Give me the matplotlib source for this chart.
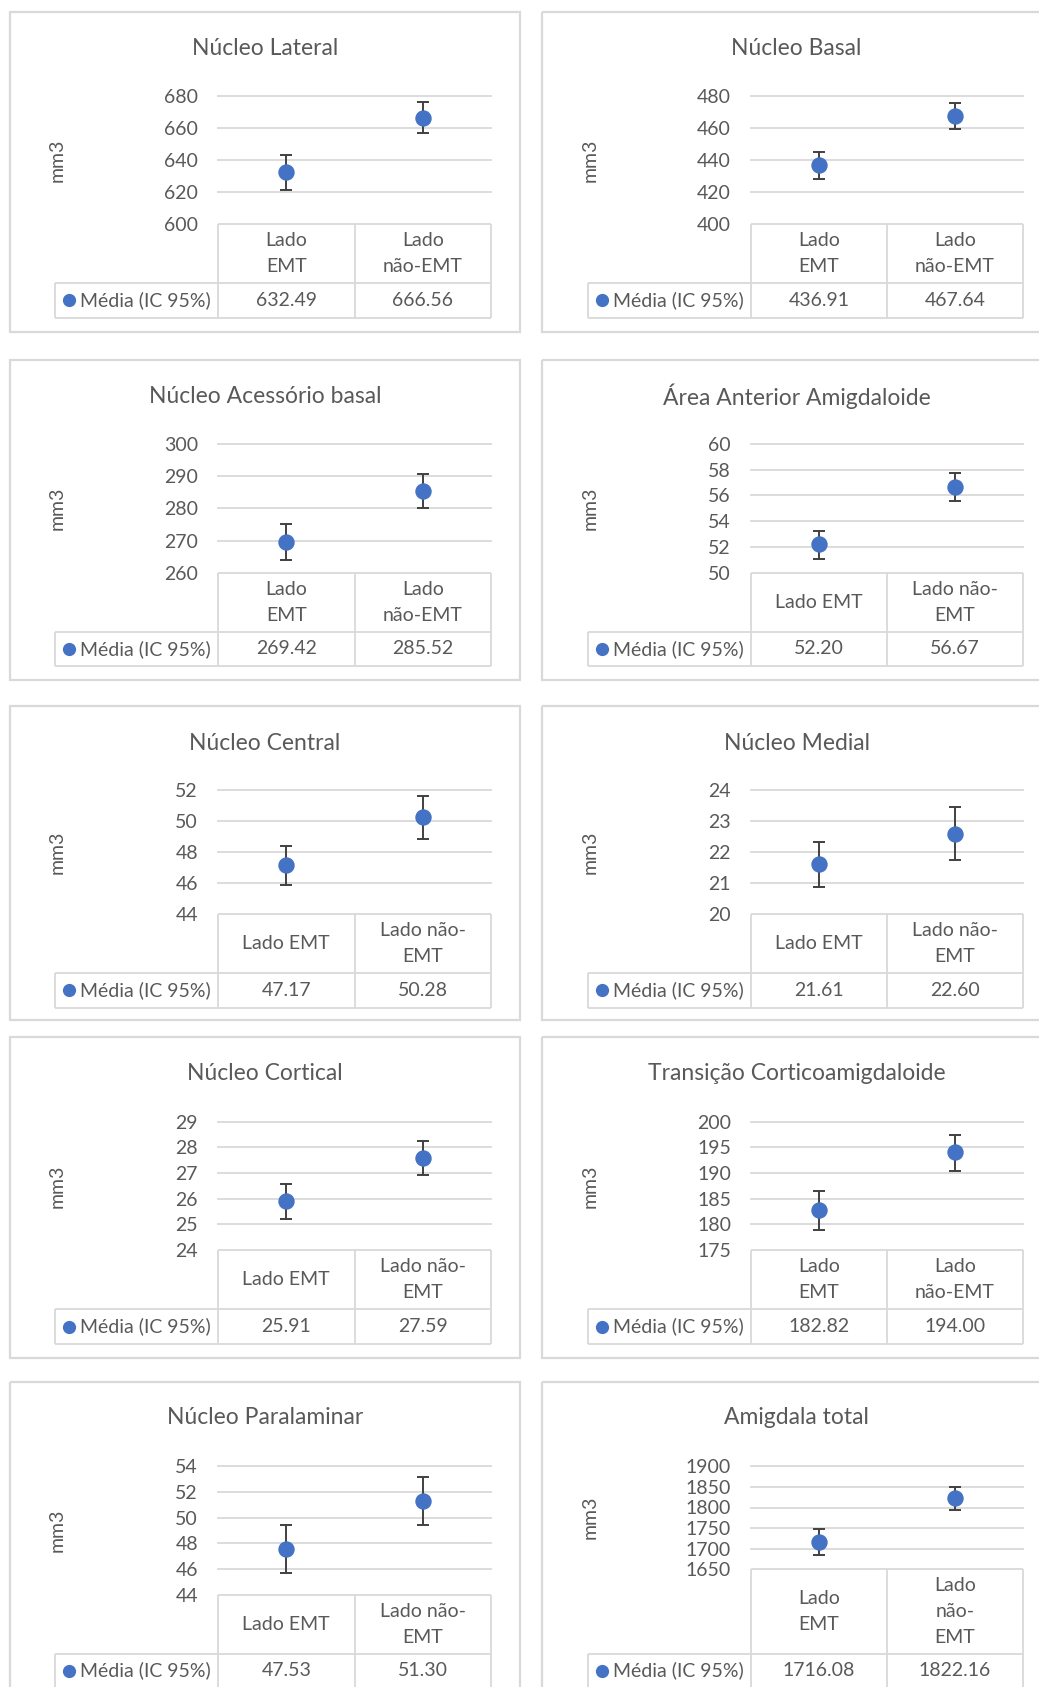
import numpy as np
import matplotlib
matplotlib.use('Agg')
import matplotlib.pyplot as plt
from matplotlib.patches import Rectangle

plt.rcParams['font.family'] = ['Lato', 'DejaVu Sans']

# --- data -------------------------------------------------------------
titles = ['Núcleo Lateral', 'Núcleo Basal',
          'Núcleo Acessório basal', 'Área Anterior Amigdaloide',
          'Núcleo Central', 'Núcleo Medial',
          'Núcleo Cortical', 'Transição Corticoamigdaloide',
          'Núcleo Paralaminar', 'Amigdala total']
mean_emt = [632.49, 436.91, 269.42, 52.20, 47.17, 21.61, 25.91, 182.82, 47.53, 1716.08]
mean_nao = [666.56, 467.64, 285.52, 56.67, 50.28, 22.60, 27.59, 194.00, 51.30, 1822.16]
# IC 95% limits
low_emt = [621.4, 428.1, 263.8, 51.1, 45.9, 20.87, 25.22, 178.9, 45.66, 1684.0]
high_emt = [643.4, 445.2, 275.0, 53.26, 48.42, 22.33, 26.56, 186.5, 49.43, 1747.0]
low_nao = [656.9, 459.5, 280.1, 55.54, 48.88, 21.73, 26.91, 190.3, 49.43, 1793.0]
high_nao = [676.1, 475.4, 290.8, 57.75, 51.63, 23.47, 28.25, 197.4, 53.17, 1850.0]
y_min = [600, 400, 260, 50, 44, 20, 24, 175, 44, 1650]
y_max = [680, 480, 300, 60, 52, 24, 29, 200, 54, 1900]
y_step = [20, 20, 10, 2, 2, 1, 1, 5, 2, 50]
cat_labels = [
    ('Lado\nEMT', 'Lado\nnão-EMT'),
    ('Lado\nEMT', 'Lado\nnão-EMT'),
    ('Lado\nEMT', 'Lado\nnão-EMT'),
    ('Lado EMT', 'Lado não-\nEMT'),
    ('Lado EMT', 'Lado não-\nEMT'),
    ('Lado EMT', 'Lado não-\nEMT'),
    ('Lado EMT', 'Lado não-\nEMT'),
    ('Lado\nEMT', 'Lado\nnão-EMT'),
    ('Lado EMT', 'Lado não-\nEMT'),
    ('Lado\nEMT', 'Lado\nnão-\nEMT'),
]
series_name = 'Média (IC 95%)'
y_label = 'mm3'

# --- layout (pixels) --------------------------------------------------
W, H = 1039, 1687
TXT = '#595959'
LINE = '#d9d9d9'
BLUE = '#4472C4'

cols = [
    dict(x0=10, x1=520, leg=55, p0=218, p1=491, ylab=57),
    dict(x0=542, x1=1051, leg=588, p0=751, p1=1023, ylab=590),
]
rows = [
    dict(top=12, bot=332, title=48, gtop=96, abot=(224, 224), hbot=283, vbot=317.5),
    dict(top=360, bot=680, title=396.5, gtop=444, abot=(572.7, 572.7), hbot=631.7, vbot=666),
    dict(top=706, bot=1020, title=743.3, gtop=790.3, abot=(914, 914), hbot=973.3, vbot=1007.5),
    dict(top=1037.3, bot=1358.3, title=1074, gtop=1121.7, abot=(1250, 1250), hbot=1309.3, vbot=1344),
    dict(top=1381.7, bot=1720, title=1418, gtop=1466.3, abot=(1594.7, 1569.3), hbot=1653.7, vbot=1700),
]

fig = plt.figure(figsize=(W / 100, H / 100), dpi=100)
canvas = fig.add_axes([0, 0, 1, 1])
canvas.set_xlim(0, W)
canvas.set_ylim(H, 0)
canvas.axis('off')


def hline(y, x0, x1):
    canvas.plot([x0, x1], [y, y], color=LINE, lw=1.3, solid_capstyle='butt')


def vline(x, y0, y1):
    canvas.plot([x, x], [y0, y1], color=LINE, lw=1.3, solid_capstyle='butt')


for i in range(len(titles)):
    c = cols[i % 2]
    r = rows[i // 2]
    abot = r['abot'][i % 2]

    # chart frame
    canvas.add_patch(Rectangle((c['x0'], r['top']), c['x1'] - c['x0'], r['bot'] - r['top'],
                               fill=False, edgecolor=LINE, lw=1.6))
    canvas.text((c['x0'] + c['x1']) / 2, r['title'], titles[i], ha='center', va='center',
                fontsize=16.5, color=TXT)
    canvas.text(c['ylab'], (r['gtop'] + abot) / 2, y_label, rotation=90, ha='center',
                va='center', fontsize=14, color=TXT)

    # plot area
    ax = fig.add_axes([c['p0'] / W, 1 - abot / H, (c['p1'] - c['p0']) / W, (abot - r['gtop']) / H])
    ax.patch.set_alpha(0)
    ax.set_xlim(0, 2)
    ax.set_ylim(y_min[i], y_max[i])
    ticks = np.arange(y_min[i], y_max[i] + y_step[i] / 2, y_step[i])
    ax.set_yticks(ticks)
    ax.set_xticks([])
    for t in ticks[1:]:
        ax.axhline(t, color=LINE, lw=1.3, clip_on=False, zorder=0)
    for s in ax.spines.values():
        s.set_visible(False)
    ax.tick_params(axis='y', length=0, pad=14.4, labelsize=14, labelcolor=TXT)

    xs = [0.5, 1.5]
    means = [mean_emt[i], mean_nao[i]]
    err = [[mean_emt[i] - low_emt[i], mean_nao[i] - low_nao[i]],
           [high_emt[i] - mean_emt[i], high_nao[i] - mean_nao[i]]]
    ax.errorbar(xs, means, yerr=err, fmt='none', ecolor='#404040', elinewidth=1.4,
                capsize=4.5, capthick=1.4, clip_on=False, zorder=2)
    ax.plot(xs, means, 'o', ms=10.8, color=BLUE, clip_on=False, zorder=3)

    # data table
    mid = (c['p0'] + c['p1']) / 2
    hline(abot, c['p0'], c['p1'])
    hline(r['hbot'], c['leg'], c['p1'])
    hline(r['vbot'], c['leg'], c['p1'])
    for x in (c['p0'], mid, c['p1']):
        vline(x, abot, r['vbot'])
    vline(c['leg'], r['hbot'], r['vbot'])

    hy = (abot + r['hbot']) / 2
    vy = (r['hbot'] + r['vbot']) / 2 if r['vbot'] < H else r['hbot'] + 17
    centers = [(c['p0'] + mid) / 2, (mid + c['p1']) / 2]
    for k in range(2):
        canvas.text(centers[k], hy, cat_labels[i][k], ha='center', va='center',
                    fontsize=14, color=TXT, linespacing=1.62)
        canvas.text(centers[k], vy, f'{means[k]:.2f}', ha='center', va='center',
                    fontsize=14, color=TXT)
    canvas.plot(c['leg'] + 14, vy, 'o', ms=8.5, color=BLUE)
    canvas.text(c['leg'] + 25, vy, series_name, ha='left', va='center', fontsize=14, color=TXT)

fig.savefig('out.png', dpi=100)
